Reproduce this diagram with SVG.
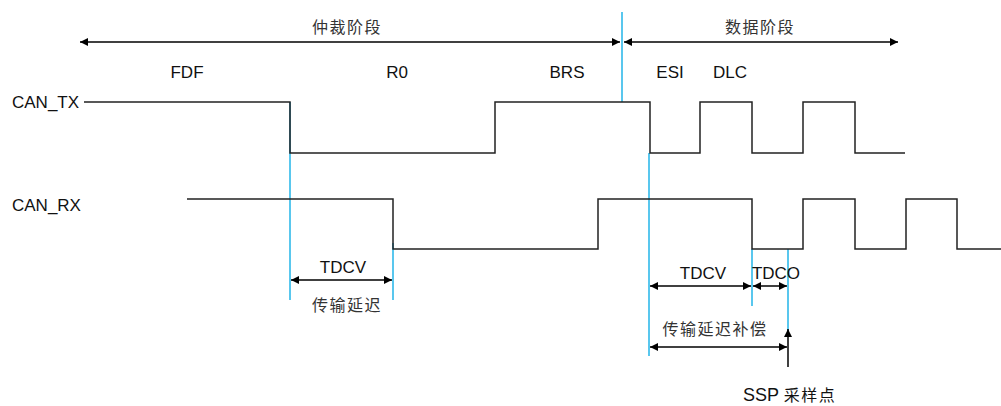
<svg xmlns="http://www.w3.org/2000/svg" width="1001" height="406" viewBox="0 0 1001 406">
<style>
.sig{fill:none;stroke:#222;stroke-width:1.5}
.blue{stroke:#22b5e8;stroke-width:1.5}
.arr{stroke:#000;stroke-width:1.5;fill:none}
.lbl{font-family:"Liberation Sans",Arial,sans-serif;font-size:17px;fill:#111}
.cn{font-family:"Noto Sans CJK SC","Noto Sans",sans-serif;font-size:16px;fill:#333;letter-spacing:1.5px}
</style>
<defs>
<marker id="ah" viewBox="0 0 10 10" refX="10" refY="5" markerWidth="8" markerHeight="8" markerUnits="userSpaceOnUse" orient="auto-start-reverse"><path d="M0,0 L10,5 L0,10 z" fill="#000"/></marker>
</defs>
<g id="connectors">
<line class="blue" x1="622" y1="12" x2="622" y2="102"/>
<line class="blue" x1="290" y1="102" x2="290" y2="300"/>
<line class="blue" x1="393" y1="243" x2="393" y2="300"/>
<line class="blue" x1="649" y1="153" x2="649" y2="356"/>
<line class="blue" x1="752" y1="249" x2="752" y2="306"/>
<line class="blue" x1="788" y1="249" x2="788" y2="336"/>
<line class="arr" x1="80" y1="42" x2="620" y2="42" marker-start="url(#ah)" marker-end="url(#ah)"/>
<line class="arr" x1="624" y1="42" x2="898" y2="42" marker-start="url(#ah)" marker-end="url(#ah)"/>
<line class="arr" x1="291" y1="280" x2="392" y2="280" marker-start="url(#ah)" marker-end="url(#ah)"/>
<line class="arr" x1="650" y1="286" x2="751" y2="286" marker-start="url(#ah)" marker-end="url(#ah)"/>
<line class="arr" x1="753" y1="286" x2="787" y2="286" marker-start="url(#ah)" marker-end="url(#ah)"/>
<line class="arr" x1="650" y1="347" x2="787" y2="347" marker-start="url(#ah)" marker-end="url(#ah)"/>
<line class="arr" x1="788" y1="367" x2="788" y2="329" marker-end="url(#ah)"/>
</g>
<g id="CAN_TX">
<text class="lbl" x="12" y="108">CAN_TX</text>
<polyline class="sig" points="84,102 290,102 290,153 495,153 495,102 650,102 650,153 700,153 700,102 752,102 752,153 803,153 803,102 855,102 855,153 905,153"/>
</g>
<g id="CAN_RX">
<text class="lbl" x="12" y="211">CAN_RX</text>
<polyline class="sig" points="187,199 393,199 393,249 598,249 598,199 752,199 752,249 803,249 803,199 855,199 855,249 906,249 906,199 957,199 957,249 1001,249"/>
</g>
<g id="labels">
<text class="cn" x="347" y="33" text-anchor="middle">仲裁阶段</text>
<text class="cn" x="760" y="33" text-anchor="middle">数据阶段</text>
<text class="lbl" x="187" y="78" text-anchor="middle">FDF</text>
<text class="lbl" x="397" y="78" text-anchor="middle">R0</text>
<text class="lbl" x="567" y="78" text-anchor="middle">BRS</text>
<text class="lbl" x="670" y="78" text-anchor="middle">ESI</text>
<text class="lbl" x="730" y="78" text-anchor="middle">DLC</text>
<text class="lbl" x="343" y="273" text-anchor="middle">TDCV</text>
<text class="cn" x="347" y="311" text-anchor="middle">传输延迟</text>
<text class="lbl" x="703" y="279" text-anchor="middle">TDCV</text>
<text class="lbl" x="776" y="279" text-anchor="middle">TDCO</text>
<text class="cn" x="715" y="335" text-anchor="middle">传输延迟补偿</text>
<text class="cn" x="743" y="401" style="fill:#111"><tspan style="font-family:'Liberation Sans',Arial,sans-serif;font-size:18px;letter-spacing:0">SSP </tspan>采样点</text>
</g>
</svg>
